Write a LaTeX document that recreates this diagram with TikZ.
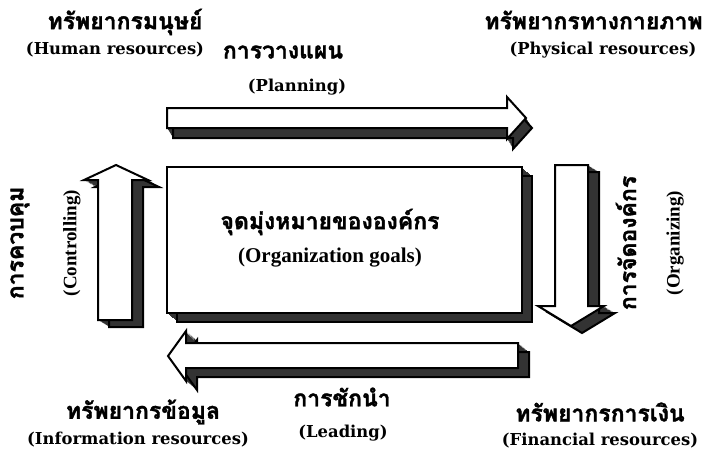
\documentclass[tikz,border=0pt]{standalone}
\usepackage{fontspec}
\setmainfont{DejaVu Serif}
\newfontfamily\timesfont{Liberation Serif}
\newfontfamily\thaifont[Script=Thai,BoldFeatures={FakeBold=1.5}]{Loma}
\newcommand{\extruded}[3]{%
  \foreach \t in {0.1,0.2,...,1.01} {\fill[black!80,shift={(\t*#1,\t*#2)}] #3;}
  \draw[depth,shift={(#1,#2)}] #3;
  \draw[face] #3;}

\begin{document}
\begin{tikzpicture}[
		x=0.5pt, y=-0.5pt,
		thai/.style={font=\thaifont\bfseries\fontsize{11.5}{14}\selectfont, inner sep=0pt},
		eng/.style={font=\bfseries\fontsize{8.2}{10}\selectfont, inner sep=0pt},
		tms/.style={font=\timesfont\bfseries\fontsize{9.5}{11}\selectfont, inner sep=0pt},
		face/.style={draw=black, fill=white, line width=1pt, line join=miter},
		depth/.style={draw=black, line width=1pt}
		]
		\useasboundingbox (0,0) rectangle (704,460);
		\extruded{6}{10}{(167,108) -- (507,108) -- (507,97) -- (526,118) -- (507,139) -- (507,128) -- (167,128) -- cycle}
		\extruded{11}{7}{(98,320) -- (98,180) -- (84,180) -- (116,165) -- (148,180) -- (132,180) -- (132,320) -- cycle}
		\extruded{11}{7}{(555,165) -- (588,165) -- (588,306) -- (604,306) -- (571,326) -- (538,306) -- (555,306) -- cycle}
		\extruded{11}{9}{(518,343) -- (186,343) -- (186,331) -- (168,356) -- (186,381) -- (186,368) -- (518,368) -- cycle}
		\extruded{10}{9}{(167,167) rectangle (522,313)}
		\node[thai] (humanTh) at (125,22) {ทรัพยากรมนุษย์};
		\node[eng] (humanEn) at (115,50) {(Human resources)};
		\node[thai] (planTh) at (283,52) {การวางแผน};
		\node[eng] (planEn) at (297,87) {(Planning)};
		\node[thai, anchor=east] (physTh) at (703,20) {ทรัพยากรทางกายภาพ};
		\node[eng] (physEn) at (603,50) {(Physical resources)};
		\node[thai, rotate=90] (ctrlTh) at (20,243) {การควบคุม};
		\node[tms, rotate=90] (ctrlEn) at (72,243) {(Controlling)};
		\node[thai, rotate=90] (orgTh) at (626,243) {การจัดองค์กร};
		\node[tms, rotate=90] (orgEn) at (675,243) {(Organizing)};
		\node[thai] (goalTh) at (330,222) {จุดมุ่งหมายขององค์กร};
		\node[tms, font=\timesfont\bfseries\fontsize{10.5}{12}\selectfont] (goalEn) at (330,258) {(Organization goals)};
		\node[thai] (leadTh) at (342,397) {การชักนำ};
		\node[eng] (leadEn) at (343,433) {(Leading)};
		\node[thai] (infoTh) at (143,412) {ทรัพยากรข้อมูล};
		\node[eng] (infoEn) at (138,440) {(Information resources)};
		\node[thai] (finTh) at (600,412) {ทรัพยากรการเงิน};
		\node[eng] (finEn) at (600,441) {(Financial resources)};
\end{tikzpicture}
\end{document}
